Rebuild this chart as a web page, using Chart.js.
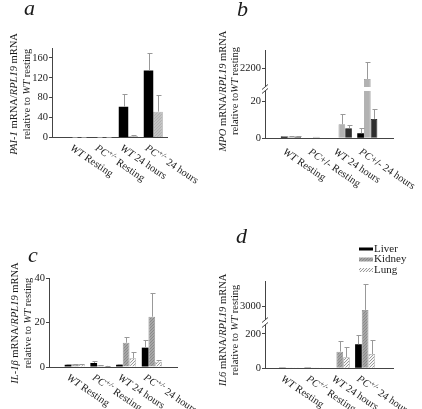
<!DOCTYPE html>
<html>
<head>
<meta charset="utf-8">
<script src="https://cdn.jsdelivr.net/npm/chart.js@4.4.0/dist/chart.umd.min.js"></script>
<style>
  body { margin: 0; background: #fff; width: 422px; height: 409px; position: relative; overflow: hidden; }
  canvas { position: absolute; }
</style>
</head>
<body>
<canvas id="chart-a" width="211" height="205" style="left:0;top:0"></canvas>
<canvas id="chart-b" width="211" height="205" style="left:211px;top:0"></canvas>
<canvas id="chart-c" width="211" height="204" style="left:0;top:205px"></canvas>
<canvas id="chart-d" width="211" height="204" style="left:211px;top:205px"></canvas>
<script>
// category labels (*..* = italic, ^..^ = superscript)
const categories = ['*WT* Resting', '*PC*^+/-^ Resting', '*WT* 24 hours', '*PC*^+/-^ 24 hours'];
const categoriesB = ['*WT* Resting', '*PC*+/- Resting', '*WT* 24 hours', '*PC*+/- 24 hours'];
const tissues = ['Liver', 'Kidney', 'Lung'];

// a: PAI-1
const paiLiver = [1, 1, 62, 135];
const paiLiverErr = [0.3, 0.3, 25, 34];
const paiKidney = [0.8, 0.5, 3, 52];
const paiKidneyErr = [0.2, 0.2, 1.5, 34];
const paiTicks = [0, 40, 80, 120, 160];

// b: MPO (broken axis)
const mpoLiver = [1, 0, 0.3, 2.7];
const mpoLiverErr = [0.3, 0, 0, 2.7];
const mpoKidney = [1, 0.8, 7.5, 2030];
const mpoKidneyErr = [0.3, 0, 5.5, 270];
const mpoLung = [0.9, 0, 5.4, 10.4];
const mpoLungErr = [0.3, 0, 1.6, 5.4];
const mpoTicks = [0, 20, 2200];

// c: IL-1beta
const il1Liver = [1, 1.8, 1, 8.7];
const il1LiverErr = [0.2, 0.9, 0.2, 3.3];
const il1Kidney = [1.2, 0.8, 10.9, 22.6];
const il1KidneyErr = [0.3, 0.1, 2.7, 10.8];
const il1Lung = [1.2, 0.5, 3.9, 2.4];
const il1LungErr = [0.3, 0.1, 3, 0.7];
const il1Ticks = [0, 20, 40];

// d: IL6 (broken axis)
const il6Liver = [1, 2, 3, 140];
const il6LiverErr = [0, 0, 0, 55];
const il6Kidney = [1, 1, 97, 2880];
const il6KidneyErr = [0, 0, 62, 970];
const il6Lung = [1, 0.5, 64, 83];
const il6LungErr = [0, 0, 62, 82];
const il6Ticks = [0, 200, 3000];

const SERIF = '"Liberation Serif", serif';

// linear scale with a gap between lo and hi
class BrokenScale extends Chart.LinearScale {
    getPixelForValue(v) {
        const b = this.options.brk;
        if (!b || v === null || v === undefined) return super.getPixelForValue(v);
        let d;
        if (v <= b.lo) d = v / b.lo * b.loFrac;
        else if (v >= b.hi) d = b.hiFrac + (v - b.hi) / (this.max - b.hi) * (1 - b.hiFrac);
        else d = b.loFrac + (v - b.lo) / (b.hi - b.lo) * (b.hiFrac - b.loFrac);
        return this.getPixelForDecimal(d);
    }
}
BrokenScale.id = 'broken';
BrokenScale.defaults = Chart.LinearScale.defaults;
Chart.register(BrokenScale);

function hatch(bg, fg, step) {
    const c = document.createElement('canvas');
    c.width = c.height = step;
    const g = c.getContext('2d');
    g.fillStyle = bg;
    g.fillRect(0, 0, step, step);
    g.strokeStyle = fg;
    g.lineWidth = 1;
    g.beginPath();
    g.moveTo(0, step); g.lineTo(step, 0);
    g.moveTo(-1, 1); g.lineTo(1, -1);
    g.moveTo(step - 1, step + 1); g.lineTo(step + 1, step - 1);
    g.stroke();
    return g.createPattern(c, 'repeat');
}

function richParts(str) {
    return str.split(/(\*[^*]+\*|\^[^^]+\^)/).filter(s => s).map(s => {
        if (s[0] === '*') return { t: s.slice(1, -1), it: true };
        if (s[0] === '^') return { t: s.slice(1, -1), sup: true };
        return { t: s };
    });
}

function drawRich(ctx, str, x, y, size, align) {
    const parts = richParts(str);
    const fontOf = p => (p.it || p.sup ? 'italic ' : '') + (p.sup ? size * 0.68 : size) + 'px ' + SERIF;
    let w = 0;
    parts.forEach(p => { ctx.font = fontOf(p); p.w = ctx.measureText(p.t).width; w += p.w; });
    let cx = align === 'center' ? x - w / 2 : x;
    ctx.textAlign = 'left';
    parts.forEach(p => {
        ctx.font = fontOf(p);
        ctx.fillText(p.t, cx, p.sup ? y - size * 0.38 : y);
        cx += p.w;
    });
}

const decor = {
    id: 'decor',
    afterDatasetsDraw(chart) {
        const ctx = chart.ctx;
        const y = chart.scales.y;
        const area = chart.chartArea;
        const cfg = chart.options.plugins.decor;
        ctx.save();
        ctx.strokeStyle = '#999';
        ctx.lineWidth = 1;
        chart.data.datasets.forEach((ds, di) => {
            chart.getDatasetMeta(di).data.forEach((bar, i) => {
                const e = ds.err[i];
                if (!e) return;
                const top = Math.round(y.getPixelForValue(ds.data[i].y + e)) + 0.5;
                const x = Math.round(bar.x) + 0.5;
                ctx.beginPath();
                ctx.moveTo(x, bar.y);
                ctx.lineTo(x, top);
                ctx.moveTo(x - 2, top);
                ctx.lineTo(x + 3, top);
                ctx.stroke();
            });
        });
        const brk = chart.options.scales.y.brk;
        if (brk && cfg.band) {
            const yHi = y.getPixelForValue(brk.hi);
            const yLo = y.getPixelForValue(brk.lo);
            ctx.fillStyle = '#fff';
            ctx.fillRect(area.left + 1, yHi, area.right - area.left, yLo - yHi);
        }
        ctx.restore();
    },
    afterDraw(chart) {
        const ctx = chart.ctx;
        const x = chart.scales.x;
        const y = chart.scales.y;
        const area = chart.chartArea;
        const cfg = chart.options.plugins.decor;
        ctx.save();
        ctx.fillStyle = '#1a1a1a';
        ctx.textBaseline = 'alphabetic';

        // axis break marks
        const brk = chart.options.scales.y.brk;
        if (brk) {
            const yHi = y.getPixelForValue(brk.hi);
            const yLo = y.getPixelForValue(brk.lo);
            ctx.fillStyle = '#fff';
            ctx.fillRect(area.left - 1.5, yHi, 3, yLo - yHi);
            ctx.strokeStyle = '#444';
            ctx.lineWidth = 1;
            ctx.beginPath();
            [yHi, yLo].forEach(py => {
                ctx.moveTo(area.left - 3, py + 2.5);
                ctx.lineTo(area.left + 3, py - 2.5);
            });
            ctx.stroke();
            ctx.fillStyle = '#1a1a1a';
        }

        // rotated category labels
        cfg.labels.forEach((lab, i) => {
            ctx.save();
            ctx.translate(x.getPixelForValue(i) - 4, area.bottom + cfg.labelDy);
            ctx.rotate(34 * Math.PI / 180);
            drawRich(ctx, lab, 0, 8.5, 10.5, 'left');
            ctx.restore();
        });

        // y title, two lines
        ctx.textBaseline = 'middle';
        cfg.title.forEach((line, i) => {
            ctx.save();
            ctx.translate(cfg.titleX[i], cfg.titleY);
            ctx.rotate(-Math.PI / 2);
            drawRich(ctx, line, 0, 0, 10.5, 'center');
            ctx.restore();
        });

        // panel letter
        ctx.textBaseline = 'alphabetic';
        ctx.font = 'italic 22px ' + SERIF;
        ctx.textAlign = 'left';
        ctx.fillText(cfg.letter, cfg.letterX, cfg.letterY);

        // legend
        if (cfg.legend) {
            const lg = cfg.legend;
            chart.data.datasets.forEach((ds, i) => {
                const ry = lg.rows[i];
                const h = i === 0 ? 3 : 4;
                ctx.fillStyle = ds.backgroundColor;
                ctx.fillRect(lg.x, ry - h / 2, 14, h);
                ctx.fillStyle = '#1a1a1a';
                ctx.font = '11px ' + SERIF;
                ctx.textBaseline = 'middle';
                ctx.fillText(ds.label, lg.x + 15, ry);
            });
        }
        ctx.restore();
    }
};

function series(label, values, errs, bg, border) {
    return {
        label: label,
        data: values.map((v, i) => ({ x: i, y: v })),
        err: errs,
        backgroundColor: bg,
        borderColor: border || bg,
        borderWidth: border ? 0.8 : 0,
        borderSkipped: 'bottom'
    };
}

function makeChart(id, p) {
    return new Chart(document.getElementById(id), {
        type: 'bar',
        data: { datasets: p.datasets },
        options: {
            responsive: false,
            maintainAspectRatio: false,
            animation: false,
            events: [],
            categoryPercentage: p.catPct,
            barPercentage: 1,
            layout: { padding: { left: 0, top: p.pad[0], right: p.pad[1], bottom: p.pad[2] } },
            scales: {
                x: {
                    type: 'linear',
                    offset: false,
                    bounds: 'data',
                    min: p.xMin,
                    max: p.xMax,
                    afterBuildTicks: s => { s.ticks = [0, 1, 2, 3].map(v => ({ value: v })); },
                    afterFit: s => { s.height = 0; },
                    ticks: { display: false },
                    grid: { display: false },
                    border: { display: true, color: '#444', width: 1 }
                },
                y: {
                    type: p.brk ? 'broken' : 'linear',
                    brk: p.brk,
                    bounds: 'data',
                    min: 0,
                    max: p.yMax,
                    afterBuildTicks: s => { s.ticks = p.ticks.map(v => ({ value: v })); },
                    afterFit: s => { s.width = p.axisW; },
                    ticks: {
                        callback: v => String(v),
                        color: '#1a1a1a',
                        padding: 1,
                        font: { family: SERIF, size: 10.5 }
                    },
                    grid: { drawOnChartArea: false, drawTicks: true, tickLength: 3, color: '#444' },
                    border: { display: true, color: '#444', width: 1 }
                }
            },
            plugins: {
                legend: { display: false },
                tooltip: { enabled: false },
                decor: p.decor
            }
        },
        plugins: [decor]
    });
}

const kidneyA = hatch('#c2c2c2', '#b0b0b0', 3);
const kidneyFill = hatch('#a6a6a6', '#8a8a8a', 3);
const lungFill = hatch('#f6f6f6', '#9a9a9a', 3);

makeChart('chart-a', {
    datasets: [
        series(tissues[0], paiLiver, paiLiverErr, '#000'),
        series(tissues[1], paiKidney, paiKidneyErr, kidneyA, '#999')
    ],
    catPct: 0.76,
    pad: [48, 44, 67.5],
    axisW: 52,
    xMin: -1.05, xMax: 3.55,
    yMax: 180,
    ticks: paiTicks,
    decor: {
        labels: categories, labelDy: 5,
        title: ['*PAI-1* mRNA/*RPL19* mRNA', 'relative to *WT* resting'],
        titleX: [14, 27], titleY: 94,
        letter: 'a', letterX: 24, letterY: 15
    }
});

makeChart('chart-b', {
    datasets: [
        series(tissues[0], mpoLiver, mpoLiverErr, '#000'),
        series(tissues[1], mpoKidney, mpoKidneyErr, '#b2b2b2', '#999'),
        series(tissues[2], mpoLung, mpoLungErr, '#2e2e2e', '#111')
    ],
    catPct: 0.79,
    pad: [50, 29, 66.7],
    axisW: 54,
    xMin: -1.02, xMax: 4.01,
    yMax: 2500,
    brk: { lo: 25.4, hi: 1900, loFrac: 0.536, hiFrac: 0.581 },
    ticks: mpoTicks,
    decor: {
        labels: categoriesB, labelDy: 8, band: true,
        title: ['*MPO* mRNA/*RPL19* mRNA', 'relative to*WT* resting'],
        titleX: [12, 24], titleY: 91,
        letter: 'b', letterX: 26, letterY: 16
    }
});

makeChart('chart-c', {
    datasets: [
        series(tissues[0], il1Liver, il1LiverErr, '#000'),
        series(tissues[1], il1Kidney, il1KidneyErr, kidneyFill, '#888'),
        series(tissues[2], il1Lung, il1LungErr, lungFill, '#aaa')
    ],
    catPct: 0.78,
    pad: [73, 34, 42],
    axisW: 49,
    xMin: -1, xMax: 3.98,
    yMax: 40,
    ticks: il1Ticks,
    decor: {
        labels: categories, labelDy: 5,
        title: ['*IL-1β* mRNA/*RPL19* mRNA', 'relative to *WT* resting'],
        titleX: [15, 28], titleY: 118,
        letter: 'c', letterX: 28, letterY: 57
    }
});

makeChart('chart-d', {
    datasets: [
        series(tissues[0], il6Liver, il6LiverErr, '#000'),
        series(tissues[1], il6Kidney, il6KidneyErr, kidneyFill, '#888'),
        series(tissues[2], il6Lung, il6LungErr, lungFill, '#aaa')
    ],
    catPct: 0.79,
    pad: [76, 29, 40.7],
    axisW: 54,
    xMin: -0.95, xMax: 4.1,
    yMax: 3970,
    brk: { lo: 252, hi: 2500, loFrac: 0.496, hiFrac: 0.553 },
    ticks: il6Ticks,
    decor: {
        labels: categories, labelDy: 5,
        title: ['*IL6* mRNA/*RPL19* mRNA', 'relative to *WT* resting'],
        titleX: [12, 24], titleY: 125,
        letter: 'd', letterX: 25, letterY: 38,
        legend: { x: 148, rows: [44, 54.5, 65] }
    }
});
</script>
</body>
</html>
